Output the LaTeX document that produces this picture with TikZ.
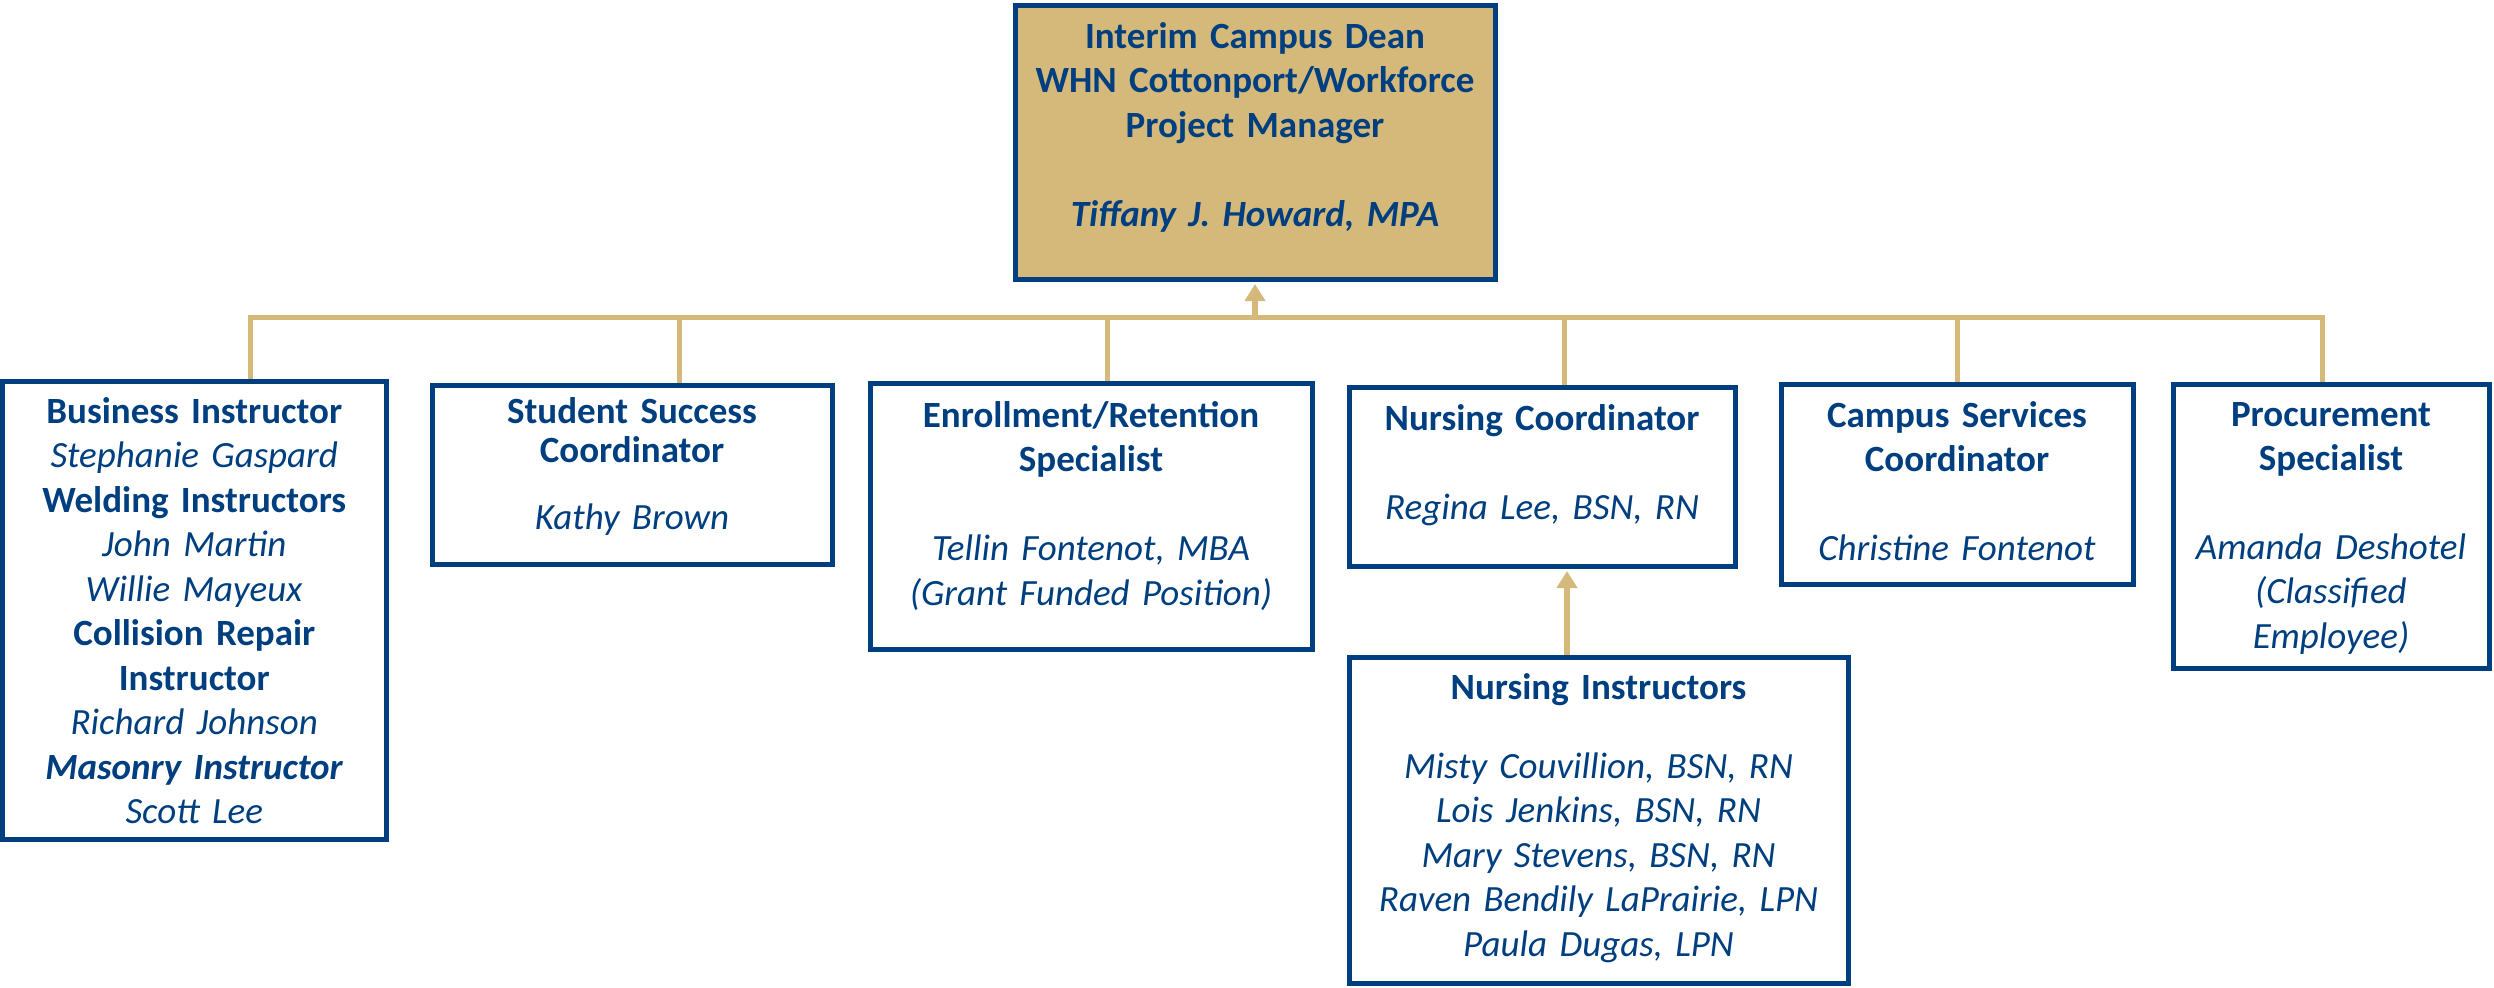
\documentclass[tikz,border=0pt]{standalone}
\usepackage{fontspec}
\setmainfont{Carlito}
\usepackage{tikz}
\usetikzlibrary{arrows.meta,calc,backgrounds}
\definecolor{Navy}{HTML}{003F7F}
\definecolor{Tan}{HTML}{D4B97B}
\tikzset{
  orgbox/.style={draw=Navy,line width=2.5pt,inner sep=0pt},
  orgtext/.style={text=Navy,align=center,inner sep=0pt,anchor=base,font=\fontsize{18.5pt}{22.25pt}\selectfont},
  link/.style={draw=Tan,line width=2.5pt},
  linkArrow/.style={draw=Tan,line width=3pt,-{Triangle[width=10pt,length=8.5pt]},shorten >=1.25pt}
}

\begin{document}
\begin{tikzpicture}[x=0.5pt,y=-0.5pt]
  \useasboundingbox (0,0) rectangle (2494,987);
  % boxes
  \node[orgbox,fill=Tan,minimum width=240pt,minimum height=137pt] (dean) at (1255,142) {};
  \node[orgbox,minimum width=191.75pt,minimum height=229pt] (biz) at (194.25,610) {};
  \node[orgbox,minimum width=200pt,minimum height=89.5pt] (ssc) at (632,474.5) {};
  \node[orgbox,minimum width=221pt,minimum height=133pt] (ers) at (1091,516) {};
  \node[orgbox,minimum width=193pt,minimum height=89.5pt] (nco) at (1542,476.5) {};
  \node[orgbox,minimum width=176pt,minimum height=100pt] (csc) at (1957,484) {};
  \node[orgbox,minimum width=158pt,minimum height=142pt] (pro) at (2331,526) {};
  \node[orgbox,minimum width=249.5pt,minimum height=163pt] (nin) at (1598.5,820) {};

  % texts
  \node[orgtext,text width=234pt] at (1255,48) {\bfseries Interim Campus Dean\\WHN Cottonport/Workforce\\Project Manager\\[22.5pt]\itshape Tiffany J. Howard, MPA};
  \node[orgtext,text width=186pt] at (194.25,423) {\textbf{Business Instructor}\\\textit{Stephanie Gaspard}\\\textbf{Welding Instructors}\\\textit{John Martin}\\\textit{Willie Mayeux}\\\textbf{Collision Repair}\\\textbf{Instructor}\\\textit{Richard Johnson}\\\textbf{\textit{Masonry Instructor}}\\\textit{Scott Lee}};
  \node[orgtext,text width=194pt] at (632,423) {\textbf{Student Success}\\[-2.75pt]\textbf{Coordinator}\\[11.25pt]\textit{Kathy Brown}};
  \node[orgtext,text width=215pt] at (1091,427) {\textbf{Enrollment/Retention}\\\textbf{Specialist}\\[22.25pt]\textit{Tellin Fontenot, MBA}\\\textit{(Grant Funded Position)}};
  \node[orgtext,text width=187pt] at (1542,430) {\textbf{Nursing Coordinator}\\[22.25pt]\textit{Regina Lee, BSN, RN}};
  \node[orgtext,text width=170pt] at (1957,427) {\textbf{Campus Services}\\\textbf{Coordinator}\\[22pt]\textit{Christine Fontenot}};
  \node[orgtext,text width=152pt] at (2331,426) {\textbf{Procurement}\\\textbf{Specialist}\\[22pt]\textit{Amanda Deshotel}\\\textit{(Classified}\\\textit{Employee)}};
  \node[orgtext,text width=243pt] at (1598.5,699) {\textbf{Nursing Instructors}\\[17.25pt]\textit{Misty Couvillion, BSN, RN}\\\textit{Lois Jenkins, BSN, RN}\\\textit{Mary Stevens, BSN, RN}\\\textit{Raven Bendily LaPrairie, LPN}\\\textit{Paula Dugas, LPN}};

  % connectors
  \coordinate (bus) at (1255,317);
  \begin{scope}[on background layer]
    \foreach \n/\dx in {biz/55.75,ssc/47,ers/16,nco/22,csc/0,pro/-9}
      \draw[link] ($(\n.north)+(\dx,0)$) |- (bus);
  \end{scope}
  \draw[linkArrow] (bus) -- (dean.south);
  \draw[linkArrow] ($(nin.north)+(-31.5,0)$) -- ($(nco.south)+(25,0)$);
\end{tikzpicture}
\end{document}
